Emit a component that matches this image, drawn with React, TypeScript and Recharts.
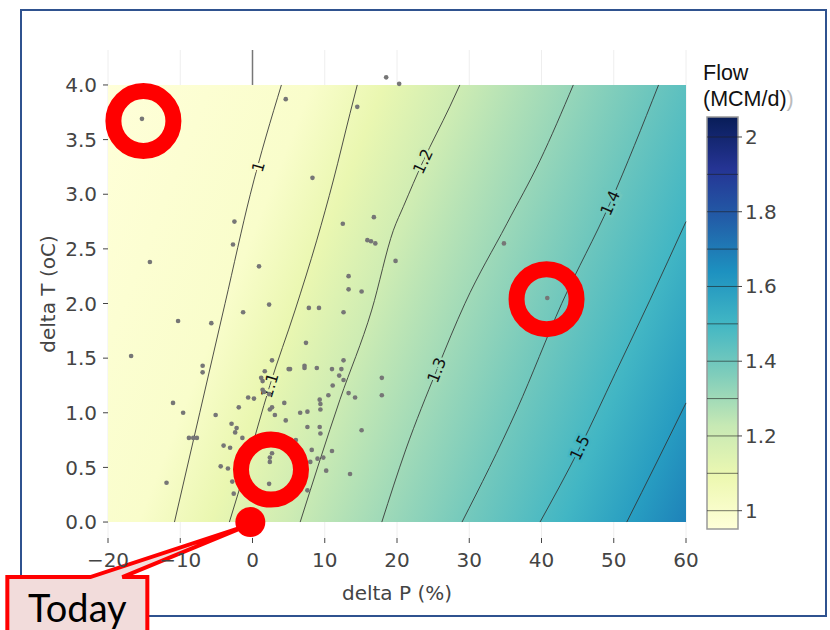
import React from "react";
import {
  ComposedChart,
  XAxis,
  YAxis,
  ZAxis,
  CartesianGrid,
  Line,
  Scatter,
  Area,
  ReferenceDot,
  ReferenceLine,
} from "recharts";

// axis ticks
const xTicks = [-20, -10, 0, 10, 20, 30, 40, 50, 60];
const yTicks = [0, 0.5, 1, 1.5, 2, 2.5, 3, 3.5, 4];
const barTicks = [1, 1.2, 1.4, 1.6, 1.8, 2];
const levels = [1.0, 1.1, 1.2, 1.3, 1.4, 1.5, 1.6, 1.7, 1.8, 1.9, 2.0];

// contour lines (delta P, delta T)
const contour10 = [
  { x: -10.8, y: 0 }, { x: -7.3, y: 1.0 }, { x: -3.8, y: 2.0 }, { x: -0.3, y: 3.0 }, { x: 4.0, y: 4.0 },
];
const contour11 = [
  { x: -3.2, y: 0 }, { x: -0.9, y: 0.5 }, { x: 2.4, y: 1.25 }, { x: 5.9, y: 1.94 },
  { x: 8.9, y: 2.58 }, { x: 11.2, y: 3.13 }, { x: 13.5, y: 3.74 }, { x: 14.5, y: 4.0 },
];
const contour12 = [
  { x: 6.6, y: 0 }, { x: 12.1, y: 1.12 }, { x: 16.5, y: 1.94 }, { x: 19.5, y: 2.67 },
  { x: 20.9, y: 2.89 }, { x: 23.6, y: 3.3 }, { x: 27.3, y: 3.8 }, { x: 28.7, y: 4.0 },
];
const contour13 = [
  { x: 17.9, y: 0 }, { x: 21.2, y: 0.66 }, { x: 25.5, y: 1.39 }, { x: 29.4, y: 2.0 },
  { x: 35.2, y: 2.73 }, { x: 39.8, y: 3.31 }, { x: 44.4, y: 4.0 },
];
const contour14 = [
  { x: 29.0, y: 0 }, { x: 36.6, y: 1.03 }, { x: 42.8, y: 2.0 }, { x: 49.5, y: 2.92 }, { x: 56.2, y: 4.0 },
];
const contour15 = [
  { x: 39.8, y: 0 }, { x: 45.3, y: 0.68 }, { x: 50.2, y: 1.36 }, { x: 55.0, y: 2.03 }, { x: 60, y: 2.75 },
];
const contour16 = [{ x: 51.8, y: 0 }, { x: 55.9, y: 0.54 }, { x: 60, y: 1.09 }];
const contours = [contour10, contour11, contour12, contour13, contour14, contour15, contour16];

const contourLabels = [
  { text: "1", x: 0.8, y: 3.25, angle: -74, level: 1.0 },
  { text: "1.1", x: 2.4, y: 1.25, angle: -73, level: 1.1 },
  { text: "1.2", x: 23.6, y: 3.3, angle: -65, level: 1.2 },
  { text: "1.3", x: 25.5, y: 1.39, angle: -69, level: 1.3 },
  { text: "1.4", x: 49.5, y: 2.92, angle: -66, level: 1.4 },
  { text: "1.5", x: 45.3, y: 0.68, angle: -64, level: 1.5 },
];

// scenario points
const scenarios = [
  [-15.3, 3.69], [4.6, 3.87], [-2.5, 2.75], [-2.7, 2.54], [0.9, 2.34], [-14.2, 2.38], [2.3, 1.99], [8.3, 3.15],
  [18.5, 4.07], [20.3, 4.01], [14.5, 3.8], [12.5, 2.73], [16.8, 2.79], [15.9, 2.58], [16.4, 2.57], [17.0, 2.55],
  [19.8, 2.39], [34.8, 2.55], [13.3, 2.25], [13.3, 2.13], [15.1, 2.11], [7.8, 1.96], [9.2, 1.96], [12.6, 1.92],
  [7.4, 1.64], [7.2, 1.43], [7.2, 1.41], [8.9, 1.41], [11.0, 1.4], [12.3, 1.4], [12.6, 1.48], [12.0, 1.34],
  [12.6, 1.3], [11.1, 1.25], [10.5, 1.16], [13.3, 1.18], [14.2, 1.14], [17.9, 1.32], [17.9, 1.16], [9.3, 1.12],
  [9.4, 1.08], [9.4, 1.03], [6.6, 1.0], [7.6, 1.01], [7.6, 0.87], [9.3, 0.87], [9.4, 0.81], [15.1, 0.84],
  [8.2, 0.66], [11.0, 0.65], [9.0, 0.58], [9.8, 0.59], [8.0, 0.55], [10.2, 0.47], [13.5, 0.44], [7.6, 0.29],
  [5.2, 1.4], [-1.3, 1.92], [-10.3, 1.84], [-5.7, 1.82], [-16.8, 1.52], [-6.9, 1.43], [-6.9, 1.37], [2.7, 1.48],
  [5.0, 1.4], [1.7, 1.38], [1.2, 1.32], [1.4, 1.29], [1.4, 1.21], [1.6, 1.19], [2.3, 1.17], [-0.6, 1.14],
  [0.2, 1.13], [4.4, 1.09], [-11.0, 1.09], [-9.6, 1.0], [-5.1, 0.98], [-1.9, 1.05], [2.4, 1.03], [2.7, 1.05],
  [3.1, 0.98], [4.6, 0.93], [-2.9, 0.9], [-2.2, 0.86], [-2.4, 0.82], [-8.8, 0.77], [-8.2, 0.77], [-7.7, 0.77],
  [-1.4, 0.77], [-4.0, 0.7], [-3.1, 0.68], [2.7, 0.63], [2.4, 0.59], [2.4, 0.55], [-4.4, 0.51], [-3.4, 0.49],
  [-2.8, 0.37], [2.3, 0.35], [-11.9, 0.36], [-2.6, 0.26], [6.0, 0.75], [40.8, 2.05],
].map(([x, y]) => ({ x, y }));

const highlighted = [{ x: -15.1, y: 3.67 }, { x: 2.56, y: 0.48 }, { x: 40.7, y: 2.04 }];
const today = { x: -0.3, y: 0 };
const fieldBox = [{ x: -20, y: 4 }, { x: 60, y: 4 }];

// flow along the gradient direction of the field (fraction -> MCM/d)
const fieldT = [0, 0.271, 0.367, 0.468, 0.59, 0.719, 0.837, 0.93, 1];
const fieldV = [0.9, 1.0, 1.1, 1.2, 1.3, 1.4, 1.5, 1.6, 1.68];

const VMIN = 0.951;
const VMAX = 2.0535;
const YLGNBU = [
  [8, 29, 88], [37, 52, 148], [34, 94, 168], [29, 145, 192], [65, 182, 196],
  [127, 205, 187], [199, 233, 180], [237, 248, 177], [255, 255, 217],
];

function scaleColor(p: number) {
  const q = Math.min(1, Math.max(0, p)) * 8;
  const i = Math.min(7, Math.floor(q));
  const f = q - i;
  const a = YLGNBU[i];
  const b = YLGNBU[i + 1];
  const c = a.map((v, k) => Math.round(v + (b[k] - v) * f));
  return `rgb(${c[0]},${c[1]},${c[2]})`;
}
const colorAt = (v: number) => scaleColor(1 - (v - VMIN) / (VMAX - VMIN));

const FONT = "DejaVu Sans";
const minus = (v: number) => (v < 0 ? `\u2212${Math.abs(v)}` : `${v}`);

const ContourLabel = (p: any, lab: any) => (
  <text
    x={p.cx}
    y={p.cy}
    textAnchor="middle"
    dominantBaseline="central"
    transform={`rotate(${lab.angle} ${p.cx} ${p.cy})`}
    fontSize={16}
    fontFamily={FONT}
    fill="#111"
    stroke={colorAt(lab.level)}
    strokeWidth={5}
    paintOrder="stroke"
  >
    {lab.text}
  </text>
);

const Callout = (p: any) => {
  const { cx, cy } = p;
  const left = cx - 243;
  const right = cx - 103;
  const top = cy + 55;
  const bottom = cy + 140;
  const d = `M${left},${top} L${cx - 160},${top} L${cx - 2},${cy + 3} L${cx - 128},${top} L${right},${top} L${right},${bottom} L${left},${bottom} Z`;
  return (
    <g>
      <path d={d} fill="#f2dcdb" stroke="#ff0000" strokeWidth={4} strokeLinejoin="miter" />
      <circle cx={cx} cy={cy} r={15} fill="#ff0000" />
      <text x={cx - 173} y={cy + 100} textAnchor="middle" fontFamily="Lato" fontSize={38} fill="#000">
        Today
      </text>
    </g>
  );
};

const Ring = (p: any) => (
  <circle cx={p.cx} cy={p.cy} r={30} fill="none" stroke="#ff0000" strokeWidth={16} />
);

const YTitle = (p: any) => {
  const vb = p.viewBox;
  const cy = vb.y + vb.height / 2;
  return (
    <text
      x={48}
      y={cy}
      textAnchor="middle"
      dominantBaseline="central"
      transform={`rotate(-90 48 ${cy})`}
      fontSize={20}
      fontFamily={FONT}
      fill="#444"
    >
      delta T (oC)
    </text>
  );
};

const CB = { left: 707, right: 738, top: 117, bottom: 529 };

function ColorBar() {
  const yOf = (v: number) => CB.bottom - ((v - VMIN) / (VMAX - VMIN)) * (CB.bottom - CB.top);
  return (
    <svg
      width={830}
      height={630}
      style={{ position: "absolute", left: 0, top: 0, pointerEvents: "none" }}
    >
      <defs>
        <linearGradient id="cbGrad" x1="0" y1="1" x2="0" y2="0">
          {YLGNBU.map((_, i) => (
            <stop key={i} offset={i / 8} stopColor={scaleColor(1 - i / 8)} />
          ))}
        </linearGradient>
        <linearGradient id="fieldGrad" x1="0" y1="0" x2="1.193" y2="0.358">
          {fieldT.map((t, i) => (
            <stop key={i} offset={t} stopColor={colorAt(fieldV[i])} />
          ))}
        </linearGradient>
      </defs>
      <rect
        x={CB.left}
        y={CB.top}
        width={CB.right - CB.left}
        height={CB.bottom - CB.top}
        fill="url(#cbGrad)"
        stroke="#999"
        strokeWidth={1.5}
      />
      {levels.map((v) => (
        <line key={v} x1={CB.left} x2={CB.right} y1={yOf(v)} y2={yOf(v)} stroke="rgba(30,30,30,0.6)" strokeWidth={1} />
      ))}
      {barTicks.map((v) => (
        <g key={v}>
          <line x1={CB.right} x2={CB.right + 4} y1={yOf(v)} y2={yOf(v)} stroke="#444" />
          <text x={CB.right + 7} y={yOf(v)} dominantBaseline="central" fontSize={20} fontFamily={FONT} fill="#444">
            {v}
          </text>
        </g>
      ))}
      <text x={703} y={80} fontSize={21.5} fontFamily="Liberation Sans" fill="#111">Flow</text>
      <text x={703} y={106} fontSize={21.5} fontFamily="Liberation Sans" fill="#111">
        (MCM/d)<tspan fill="#bbb">)</tspan>
      </text>
    </svg>
  );
}

export default function App() {
  return (
    <div style={{ position: "absolute", left: 0, top: 0, width: 830, height: 630, background: "#fff", overflow: "hidden" }}>
      <div
        style={{
          position: "absolute",
          left: 20,
          top: 9,
          width: 807,
          height: 608,
          border: "2px solid #2f528f",
          boxSizing: "border-box",
        }}
      />
      <ComposedChart width={830} height={630} margin={{ top: 50, right: 144, bottom: 0, left: 0 }}>
        <CartesianGrid horizontal={false} stroke="#eee" />
        <XAxis
          type="number"
          dataKey="x"
          domain={[-20, 60]}
          ticks={xTicks}
          interval={0}
          tickFormatter={minus}
          height={92}
          axisLine={false}
          tickSize={5}
          tickMargin={10}
          tickLine={{ stroke: "#444" }}
          tick={{ fill: "#444", fontSize: 20, fontFamily: FONT }}
          label={{ value: "delta P (%)", position: "insideBottom", offset: 30, fill: "#444", fontSize: 20, fontFamily: FONT }}
        />
        <YAxis
          type="number"
          dataKey="y"
          domain={[-0.146, 4.32]}
          ticks={yTicks}
          interval={0}
          tickFormatter={(v: number) => v.toFixed(1)}
          width={108}
          axisLine={false}
          tickSize={5}
          tickMargin={6}
          tickLine={{ stroke: "#444" }}
          tick={{ fill: "#444", fontSize: 20, fontFamily: FONT }}
          label={{ content: YTitle }}
        />
        <ZAxis range={[17, 17]} />
        <ReferenceLine segment={[{ x: 0, y: 4 }, { x: 0, y: 4.32 }]} stroke="#777" strokeWidth={1.5} />
        <Area
          data={fieldBox}
          dataKey="y"
          type="linear"
          baseValue={0}
          stroke="none"
          fill="url(#fieldGrad)"
          fillOpacity={1}
          dot={false}
          activeDot={false}
          isAnimationActive={false}
        />
        {contours.map((c, i) => (
          <Line
            key={i}
            data={c}
            dataKey="y"
            type="monotone"
            stroke="#333"
            strokeOpacity={0.85}
            strokeWidth={1}
            dot={false}
            activeDot={false}
            isAnimationActive={false}
          />
        ))}
        {contourLabels.map((lab) => (
          <ReferenceDot key={lab.text} x={lab.x} y={lab.y} r={0} shape={(p: any) => ContourLabel(p, lab)} />
        ))}
        <Scatter data={scenarios} fill="#767676" isAnimationActive={false} />
        <Scatter data={highlighted} shape={Ring} isAnimationActive={false} />
        <ReferenceDot x={today.x} y={today.y} r={15} shape={Callout} />
      </ComposedChart>
      <ColorBar />
    </div>
  );
}
